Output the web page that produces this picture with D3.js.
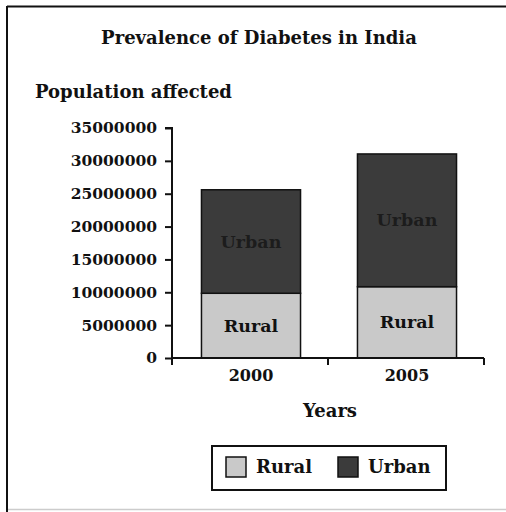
<!DOCTYPE html>
<html>
<head>
<meta charset="utf-8">
<script src="https://cdn.jsdelivr.net/npm/d3@7"></script>
<style>
  body { margin: 0; background: #fff; }
  text { font-family: "DejaVu Serif", serif; font-weight: bold; fill: #111; }
</style>
</head>
<body>
<div id="graph"></div>
<script>
var years = ['2000', '2005']
var rural = [9850000, 10850000]
var urban = [15750000, 20200000]
var seriesNames = ['Rural', 'Urban']
var yTicks = [0, 5000000, 10000000, 15000000, 20000000, 25000000, 30000000, 35000000]

var colors = {Rural: '#c9c9c9', Urban: '#3b3b3b'}

var data = years.map((d, i) => ({year: d, Rural: rural[i], Urban: urban[i]}))
var stacked = d3.stack().keys(seriesNames)(data)

var svg = d3.select('#graph').append('svg')
  .attr('width', 506).attr('height', 512)

// frame
svg.append('line').attr('x1', 7).attr('x2', 506).attr('y1', 6.5).attr('y2', 6.5)
  .attr('stroke', '#111').attr('stroke-width', 2)
svg.append('line').attr('x1', 7).attr('x2', 7).attr('y1', 6).attr('y2', 512)
  .attr('stroke', '#111').attr('stroke-width', 2)
svg.append('line').attr('x1', 8).attr('x2', 506).attr('y1', 509.5).attr('y2', 509.5)
  .attr('stroke', '#ccc').attr('stroke-width', 1.5)

var x = d3.scaleBand().domain(years).range([172, 484])
var y = d3.scaleLinear().domain([0, 35000000]).range([358, 128])
var barW = x.bandwidth() * 0.635

// bars
svg.selectAll('g.series').data(stacked).join('g')
  .attr('class', 'series')
  .attr('fill', d => colors[d.key])
  .selectAll('rect').data(d => d).join('rect')
  .attr('x', d => x(d.data.year) + (x.bandwidth() - barW) / 2 + 1)
  .attr('width', barW)
  .attr('y', d => y(d[1]))
  .attr('height', d => y(d[0]) - y(d[1]))
  .attr('stroke', '#111').attr('stroke-width', 1.5)

// labels inside bars
stacked.forEach(s => {
  svg.selectAll(null).data(s).join('text')
    .attr('x', d => x(d.data.year) + x.bandwidth() / 2 + 1)
    .attr('y', d => (y(d[0]) + y(d[1])) / 2 + 6)
    .attr('text-anchor', 'middle')
    .style('font-size', '17.5px')
    .style('fill', s.key == 'Urban' ? '#1c1c1c' : '#111')
    .text(s.key)
})

// y axis
var yAxis = svg.append('g').attr('transform', 'translate(172,0)')
  .call(d3.axisLeft(y).tickValues(yTicks).tickFormat(d3.format('d')).tickSize(7).tickPadding(8))
yAxis.select('.domain').attr('stroke', '#111').attr('stroke-width', 2).attr('d', 'M-7,128H0V358')
yAxis.selectAll('.tick line').attr('stroke', '#111').attr('stroke-width', 2)
yAxis.selectAll('.tick text').style('font-size', '15.5px').style('font-family', '"DejaVu Serif", serif').style('font-weight', 'bold')

// x axis
var xAxis = svg.append('g').attr('transform', 'translate(0,358)')
  .call(d3.axisBottom(x).tickSize(0).tickPadding(12))
xAxis.select('.domain').attr('stroke', '#111').attr('stroke-width', 2).attr('d', 'M172,0H484')
xAxis.selectAll('.tick text').attr('dx', 1).style('font-size', '16px').style('font-family', '"DejaVu Serif", serif').style('font-weight', 'bold')
xAxis.selectAll('line.sep').data([172, 328, 484]).join('line')
  .attr('class', 'sep')
  .attr('x1', d => d).attr('x2', d => d).attr('y1', 0).attr('y2', 7)
  .attr('stroke', '#111').attr('stroke-width', 2)

// titles
svg.append('text').attr('x', 259).attr('y', 44).attr('text-anchor', 'middle')
  .style('font-size', '18px').text('Prevalence of Diabetes in India')
svg.append('text').attr('x', 35).attr('y', 98)
  .style('font-size', '18px').text('Population affected')
svg.append('text').attr('x', 330).attr('y', 417).attr('text-anchor', 'middle')
  .style('font-size', '18px').text('Years')

// legend
var lg = svg.append('g')
lg.append('rect').attr('x', 212).attr('y', 446).attr('width', 234).attr('height', 44)
  .attr('fill', 'none').attr('stroke', '#111').attr('stroke-width', 2)
var items = lg.selectAll('g.item').data(seriesNames).join('g')
  .attr('class', 'item')
  .attr('transform', (d, i) => 'translate(' + [226 + i * 112, 457] + ')')
items.append('rect').attr('width', 20).attr('height', 20)
  .attr('fill', d => colors[d]).attr('stroke', '#111').attr('stroke-width', 1.5)
items.append('text').attr('x', 30).attr('y', 16).style('font-size', '18px').text(d => d)
</script>
</body>
</html>
